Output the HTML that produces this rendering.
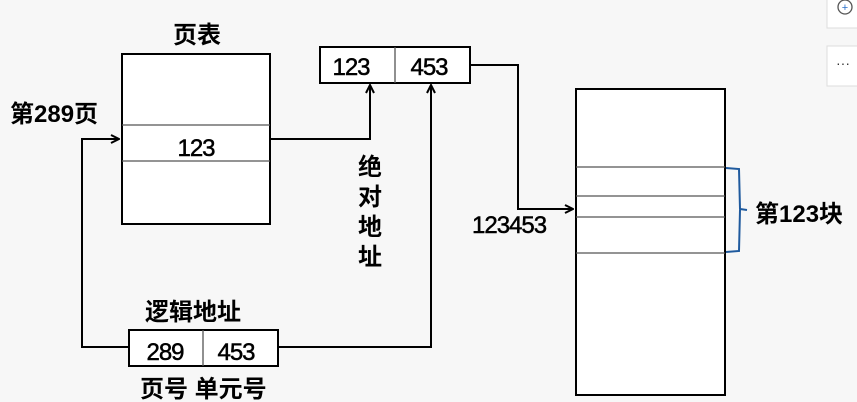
<!DOCTYPE html>
<html><head><meta charset="utf-8"><style>
body{margin:0;width:857px;height:402px;background:#f7f7f7;overflow:hidden}
svg{display:block}
text{font-family:"Liberation Sans","Noto Sans CJK SC",sans-serif;fill:#000}
.n{font-size:24px;stroke:#000;stroke-width:0.5px;letter-spacing:-1px}
.c{font-size:24px;font-weight:bold}
</style></head><body>
<svg width="857" height="402" viewBox="0 0 857 402">
<defs><marker id="a" markerWidth="10" markerHeight="10" refX="9" refY="5" orient="auto" markerUnits="userSpaceOnUse"><path d="M1,1 L9,5 L1,9" fill="none" stroke="#000" stroke-width="2"/></marker></defs>
<g stroke="#000" fill="#fff" stroke-width="2">
<rect x="122" y="54" width="148" height="170"/>
<rect x="320" y="47" width="150" height="36"/>
<rect x="129" y="330" width="149" height="36"/>
<rect x="576" y="89" width="149" height="306"/>
</g>
<g stroke="#555" stroke-width="1.3">
<line x1="122" y1="125" x2="270" y2="125"/><line x1="122" y1="161" x2="270" y2="161"/>
<line x1="395" y1="47" x2="395" y2="83"/><line x1="203" y1="330" x2="203" y2="366"/>
<line x1="576" y1="167" x2="725" y2="167"/><line x1="576" y1="196" x2="725" y2="196"/>
<line x1="576" y1="217" x2="725" y2="217"/><line x1="576" y1="253" x2="725" y2="253"/>
</g>
<g stroke="#000" stroke-width="2" fill="none">
<polyline points="129,347 82,347 82,139 119,139" marker-end="url(#a)"/>
<polyline points="278,347 431,347 431,85" marker-end="url(#a)"/>
<polyline points="270,139 370,139 370,85" marker-end="url(#a)"/>
<polyline points="470,65 518,65 518,209 573,209" marker-end="url(#a)"/>
</g>
<path d="M726,168 L739,169 L740,209 L747,210 M740,210 L739,251 L726,252" stroke="#1f5a9e" stroke-width="2" fill="none"/>
<g class="c">
<text x="197" y="43" text-anchor="middle">页表</text>
<text x="10" y="122">第289页</text>
<text x="358" y="175">绝</text><text x="358" y="205">对</text><text x="358" y="235">地</text><text x="358" y="265">址</text>
<text x="145" y="320">逻辑地址</text>
<text x="140" y="397">页号 单元号</text>
<text x="755" y="222">第123块</text>
</g>
<g class="n">
<text x="196" y="156" text-anchor="middle">123</text>
<text x="351" y="75" text-anchor="middle">123</text>
<text x="429" y="75" text-anchor="middle">453</text>
<text x="165" y="360" text-anchor="middle">289</text>
<text x="236" y="360" text-anchor="middle">453</text>
<text x="472" y="233">123453</text>
</g>
<rect x="827" y="-4" width="40" height="32" fill="#fff" stroke="#ddd"/>
<circle cx="845" cy="7" r="7" fill="none" stroke="#555" stroke-width="1.3"/>
<text x="845" y="11" font-size="11" text-anchor="middle" style="fill:#2a6fc9">+</text>
<rect x="827" y="46" width="40" height="40" fill="#fff" stroke="#ddd"/>
<text x="836" y="68" font-size="14" style="fill:#333">···</text>
</svg>
</body></html>
